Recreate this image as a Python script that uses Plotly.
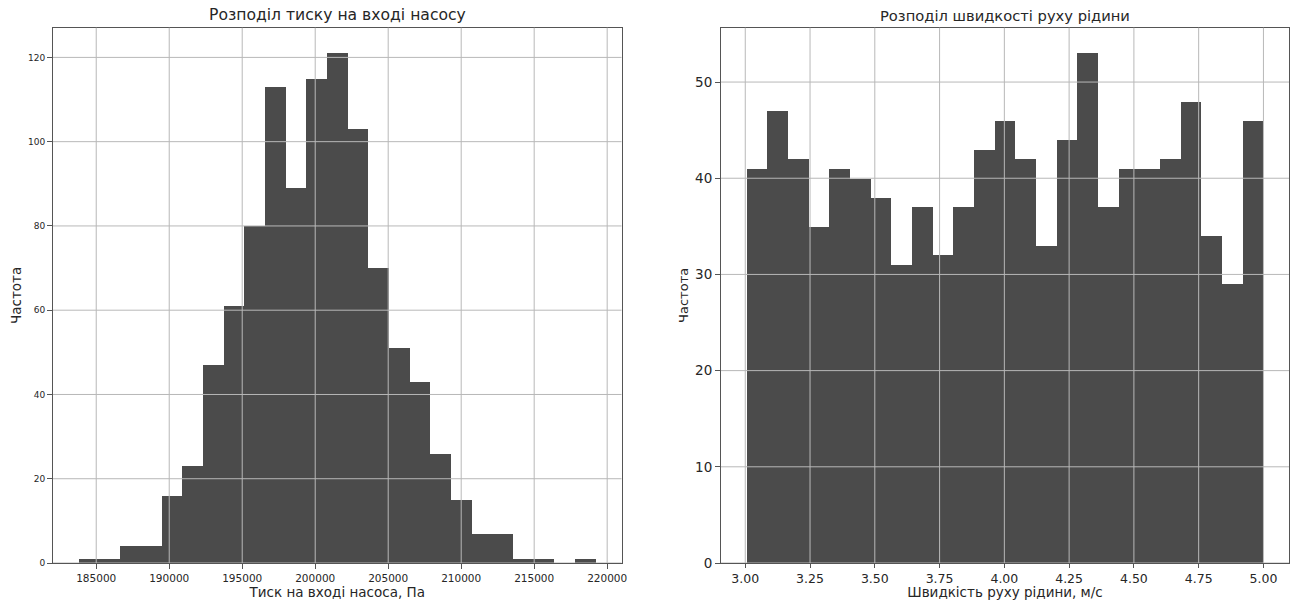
import numpy as np
import plotly.graph_objects as go

# ---------------- data ----------------
pressure_counts = [1, 1, 4, 4, 16, 23, 47, 61, 80, 113, 89, 115, 121, 103, 70,
                   51, 43, 26, 15, 7, 7, 1, 1, 0, 1]
pressure_min = 183809.0
pressure_max = 219211.0

velocity_counts = [41, 47, 42, 35, 41, 40, 38, 31, 37, 32, 37, 43, 46, 42, 33,
                   44, 53, 37, 41, 41, 42, 48, 34, 29, 46]
velocity_min = 3.006
velocity_max = 4.999

pressure_xticks = [185000, 190000, 195000, 200000, 205000, 210000, 215000, 220000]
pressure_yticks = [0, 20, 40, 60, 80, 100, 120]
velocity_xticks = [3.00, 3.25, 3.50, 3.75, 4.00, 4.25, 4.50, 4.75, 5.00]
velocity_xticklabels = ["3.00", "3.25", "3.50", "3.75", "4.00", "4.25", "4.50", "4.75", "5.00"]
velocity_yticks = [0, 10, 20, 30, 40, 50]

title_left = "Розподіл тиску на вході насосу"
title_right = "Розподіл швидкості руху рідини"
xlabel_left = "Тиск на вході насоса, Па"
xlabel_right = "Швидкість руху рідини, м/с"
ylabel = "Частота"

# ---------------- helpers ----------------
def bins(lo, hi, counts):
    n = len(counts)
    edges = np.linspace(lo, hi, n + 1)
    centers = (edges[:-1] + edges[1:]) / 2
    width = edges[1] - edges[0]
    return edges, centers, width

BAR = "#4b4b4b"
GRID = "#b8b8b8"
FONT = "DejaVu Sans"
TXT = "#262626"
SPINE = "#555555"

pe, pc, pw = bins(pressure_min, pressure_max, pressure_counts)
ve, vc, vw = bins(velocity_min, velocity_max, velocity_counts)

def lims(lo, hi):
    m = (hi - lo) * 0.05
    return [lo - m, hi + m]

fig = go.Figure()
fig.add_trace(go.Bar(x=pc, y=pressure_counts, width=[pw] * len(pc),
                     marker=dict(color=BAR, line=dict(width=0)),
                     xaxis="x", yaxis="y", showlegend=False))
fig.add_trace(go.Bar(x=vc, y=velocity_counts, width=[vw] * len(vc),
                     marker=dict(color=BAR, line=dict(width=0)),
                     xaxis="x2", yaxis="y2", showlegend=False))

W, H = 1295, 600
L1, R1 = 53, 621.5
L2, R2 = 721, 1289
TOP, BOT = 27.7, 563

def ax_common(tickfont_size, ticklen=5):
    return dict(showgrid=False, zeroline=False, showline=True, linecolor=SPINE,
                linewidth=1, mirror=True, ticks="outside", ticklen=ticklen,
                tickcolor=SPINE, tickwidth=1,
                tickfont=dict(family=FONT, size=tickfont_size, color=TXT),
                automargin=False)

fig.update_layout(
    width=W, height=H,
    margin=dict(l=0, r=0, t=0, b=0),
    paper_bgcolor="white", plot_bgcolor="white",
    bargap=0, barmode="overlay",
    font=dict(family=FONT, color=TXT),
    xaxis=dict(domain=[L1 / W, R1 / W], anchor="y",
               range=lims(pressure_min, pressure_max),
               tickvals=pressure_xticks,
               ticktext=[str(v) for v in pressure_xticks],
               title=dict(text=xlabel_left, font=dict(family=FONT, size=13.5, color=TXT), standoff=3),
               **ax_common(10.5)),
    yaxis=dict(domain=[1 - BOT / H, 1 - TOP / H], anchor="x",
               range=[0, max(pressure_counts) * 1.05],
               tickvals=pressure_yticks,
               title=dict(text=ylabel, font=dict(family=FONT, size=13.5, color=TXT), standoff=3),
               **ax_common(9)),
    xaxis2=dict(domain=[L2 / W, R2 / W], anchor="y2",
                range=lims(velocity_min, velocity_max),
                tickvals=velocity_xticks, ticktext=velocity_xticklabels,
                title=dict(text=xlabel_right, font=dict(family=FONT, size=13.5, color=TXT), standoff=5),
                **ax_common(12.5, ticklen=4)),
    yaxis2=dict(domain=[1 - BOT / H, 1 - TOP / H], anchor="x2",
                range=[0, max(velocity_counts) * 1.05],
                tickvals=velocity_yticks,
                title=dict(text=ylabel, font=dict(family=FONT, size=13, color=TXT), standoff=3),
                **ax_common(13.5)),
)

# gridlines above the bars (matplotlib default ordering)
shapes = []
for v in pressure_xticks:
    shapes.append(dict(type="line", xref="x", yref="y domain", x0=v, x1=v, y0=0, y1=1,
                       line=dict(color=GRID, width=1), layer="above"))
for v in pressure_yticks:
    shapes.append(dict(type="line", xref="x domain", yref="y", x0=0, x1=1, y0=v, y1=v,
                       line=dict(color=GRID, width=1), layer="above"))
for v in velocity_xticks:
    shapes.append(dict(type="line", xref="x2", yref="y2 domain", x0=v, x1=v, y0=0, y1=1,
                       line=dict(color=GRID, width=1), layer="above"))
for v in velocity_yticks:
    shapes.append(dict(type="line", xref="x2 domain", yref="y2", x0=0, x1=1, y0=v, y1=v,
                       line=dict(color=GRID, width=1), layer="above"))
fig.update_layout(shapes=shapes)

fig.add_annotation(text=title_left, xref="x domain", yref="y domain", x=0.5, y=1,
                   yshift=2, xanchor="center", yanchor="bottom", showarrow=False,
                   font=dict(family=FONT, size=15.6, color=TXT))
fig.add_annotation(text=title_right, xref="x2 domain", yref="y2 domain", x=0.5, y=1,
                   yshift=2, xanchor="center", yanchor="bottom", showarrow=False,
                   font=dict(family=FONT, size=14.7, color=TXT))

fig.write_html("out.html")
